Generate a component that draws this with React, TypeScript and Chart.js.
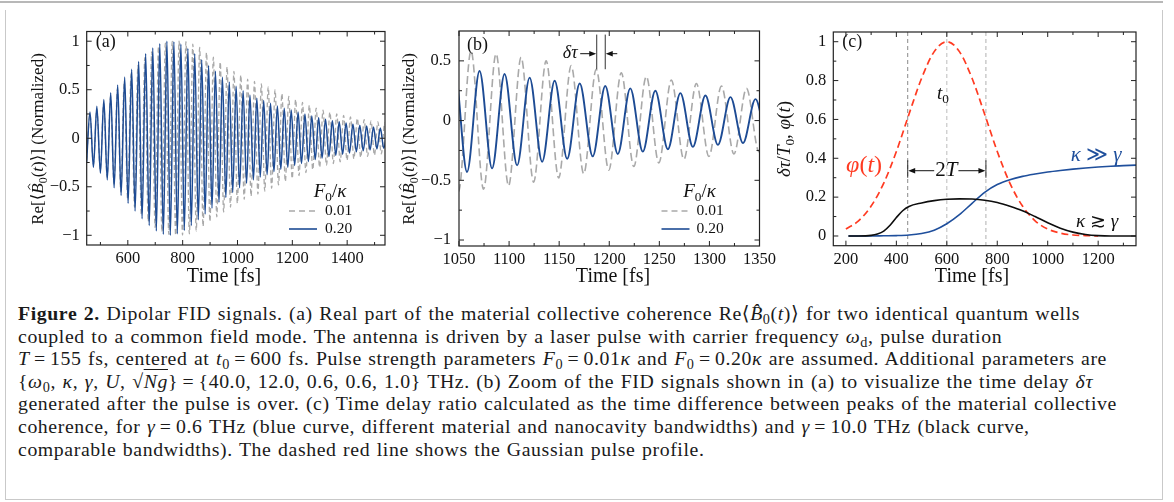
import React, { useEffect, useRef } from "react";
import { Chart, registerables } from "chart.js";
Chart.register(...registerables);

const FAMILY = '"Liberation Serif", "Times New Roman", "DejaVu Serif", serif';

// ---------------- DATA ----------------
// Panel (a)/(b): extrema (peaks/troughs) of the FID signals
const grayT = [449.5, 462, 474.5, 487, 499.5, 512, 524.5, 537, 549.5, 562, 574.5, 587, 599.5, 612, 624.5, 637, 649.5, 662, 674.5, 687, 699.5, 712, 724.5, 737, 749.5, 762, 774.5, 787, 799.5, 812, 824.5, 837, 849.5, 862, 874.5, 887, 899.5, 912, 924.5, 937, 949.5, 962, 974.5, 987, 999.5, 1012, 1024.5, 1037, 1049.5, 1062, 1074.5, 1087, 1099.5, 1112, 1124.5, 1137, 1149.5, 1162, 1174.5, 1187, 1199.5, 1212, 1224.5, 1237, 1249.5, 1262, 1274.5, 1287, 1299.5, 1312, 1324.5, 1337, 1349.5, 1362, 1374.5, 1387, 1399.5, 1412, 1424.5, 1437, 1449.5, 1462, 1474.5, 1487, 1499.5, 1512, 1524.5, 1537, 1549.5];
const grayV = [-0.23, 0.25, -0.27, 0.3, -0.33, 0.36, -0.4, 0.43, -0.47, 0.51, -0.55, 0.59, -0.63, 0.67, -0.71, 0.75, -0.79, 0.83, -0.86, 0.89, -0.92, 0.945, -0.965, 0.98, -0.99, 0.997, -1.0, 1.0, -0.998, 0.995, -0.985, 0.97, -0.955, 0.935, -0.91, 0.885, -0.86, 0.835, -0.81, 0.785, -0.76, 0.735, -0.71, 0.69, -0.67, 0.65, -0.63, 0.61, -0.595, 0.585, -0.575, 0.56, -0.545, 0.53, -0.515, 0.5, -0.48, 0.46, -0.445, 0.43, -0.415, 0.4, -0.385, 0.37, -0.355, 0.34, -0.325, 0.31, -0.3, 0.29, -0.28, 0.27, -0.26, 0.252, -0.244, 0.236, -0.228, 0.22, -0.213, 0.206, -0.199, 0.192, -0.186, 0.18, -0.174, 0.168, -0.162, 0.157, -0.152];
const blueT = [449.5, 462, 474.5, 487, 500, 512.5, 525, 537.5, 550, 563, 575.5, 588.5, 601, 614, 626.5, 639.5, 652, 665, 678, 691, 704, 716.5, 729.5, 742.5, 755, 768, 780.5, 793.5, 806, 819, 831.5, 844, 857, 869.5, 882, 894.5, 907, 919.5, 932.5, 945, 957.5, 970, 982.5, 995, 1007.5, 1020.5, 1033, 1045.5, 1058, 1070.5, 1083, 1095.5, 1108, 1120.5, 1133, 1145.5, 1158, 1170.5, 1183.5, 1196, 1208.5, 1221, 1233.5, 1246, 1258.5, 1271, 1283.5, 1296, 1308.5, 1321, 1333.5, 1346, 1358.5, 1371, 1383.5, 1396, 1408.5, 1421, 1433.5, 1446, 1458.5, 1471, 1483.5, 1496, 1508.5, 1521, 1533.5, 1546];
const blueV = [-0.25, 0.27, -0.3, 0.33, -0.36, 0.4, -0.43, 0.47, -0.51, 0.55, -0.59, 0.63, -0.67, 0.71, -0.75, 0.79, -0.83, 0.87, -0.9, 0.93, -0.955, 0.975, -0.99, 1.0, -1.0, 0.995, -0.985, 0.97, -0.95, 0.925, -0.9, 0.87, -0.84, 0.81, -0.78, 0.75, -0.72, 0.69, -0.66, 0.63, -0.61, 0.58, -0.56, 0.535, -0.51, 0.49, -0.465, 0.445, -0.43, 0.415, -0.4, 0.39, -0.375, 0.36, -0.345, 0.333, -0.32, 0.31, -0.3, 0.29, -0.28, 0.27, -0.26, 0.25, -0.24, 0.23, -0.22, 0.21, -0.203, 0.196, -0.188, 0.18, -0.175, 0.17, -0.164, 0.158, -0.152, 0.146, -0.14, 0.135, -0.13, 0.125, -0.12, 0.115, -0.11, 0.106, -0.102, 0.098];

// Panel (c)
const pulseT = [200, 250, 300, 350, 400, 450, 500, 550, 600, 650, 700, 750, 800, 850, 900, 950, 1000, 1050, 1100, 1150, 1200];
const pulseV = [0.036, 0.078, 0.154, 0.272, 0.435, 0.627, 0.812, 0.949, 1.0, 0.949, 0.812, 0.627, 0.435, 0.272, 0.154, 0.078, 0.036, 0.015, 0.005, 0.002, 0.0];
const wideT = [210, 300, 350, 400, 450, 500, 550, 600, 650, 700, 750, 800, 850, 900, 950, 1000, 1050, 1100, 1150, 1200, 1250, 1300, 1350];
const wideV = [0, 0, 0.001, 0.002, 0.005, 0.013, 0.03, 0.063, 0.11, 0.168, 0.225, 0.265, 0.29, 0.307, 0.319, 0.329, 0.337, 0.344, 0.35, 0.355, 0.359, 0.362, 0.365];
const compT = [210, 250, 300, 325, 350, 375, 400, 425, 450, 500, 550, 600, 650, 700, 750, 800, 850, 900, 950, 1000, 1050, 1100, 1150, 1200, 1250, 1300, 1350];
const compV = [0, 0, 0.003, 0.01, 0.025, 0.055, 0.095, 0.13, 0.152, 0.17, 0.182, 0.189, 0.191, 0.19, 0.184, 0.172, 0.153, 0.13, 0.1, 0.068, 0.04, 0.02, 0.008, 0.002, 0, 0, 0];
const pulseMarks = [445, 600, 755];
const delayMarks = [1187.5, 1196];

// Ticks
const aXTicks = [600, 800, 1000, 1200, 1400];
const aXMinor = [500, 700, 900, 1100, 1300, 1500];
const aYTicks = [-1, -0.5, 0, 0.5, 1];
const aYLabels = ["\u22121", "\u22120.5", "0", "0.5", "1"];
const aYMinor = [-0.75, -0.25, 0.25, 0.75];
const bXTicks = [1050, 1100, 1150, 1200, 1250, 1300, 1350];
const bXMinor = [1075, 1125, 1175, 1225, 1275, 1325];
const bYTicks = [-1, -0.5, 0, 0.5];
const bYLabels = ["\u22121", "\u22120.5", "0", "0.5"];
const bYMinor = [-0.75, -0.25, 0.25];
const cXTicks = [200, 400, 600, 800, 1000, 1200];
const cXMinor = [300, 500, 700, 900, 1100, 1300];
const cYTicks = [0, 0.2, 0.4, 0.6, 0.8, 1];
const cYLabels = ["0", "0.2", "0.4", "0.6", "0.8", "1"];
const cYMinor = [0.1, 0.3, 0.5, 0.7, 0.9];
const legendLabels = ["0.01", "0.20"];

// ---------------- STYLE ----------------
const BLUE = "#1d4b94";
const GRAY = "#a9a9a9";
const RED = "#ff3b22";
const INK = "#111111";
const TICK_SIZE = 16.5;

type Seg = { t: string; i?: boolean; s?: "sub" | "sup"; c?: string; hat?: boolean };
type Txt = { segs: Seg[]; x: number; y: number; coord: "data" | "px" | "tl" | "br"; size: number; color?: string; align?: "left" | "center" | "right"; rot?: number };
type Deco = {
  xMajor: number[]; xMinor: number[]; yMajor: number[]; yMinor: number[];
  texts: Txt[];
  arrows?: { x1: number; x2: number; y: number }[];
  bars?: { x: number; y1: number; y2: number }[];
  vlines?: { x: number; color: string }[];
  legend?: { tx: number; ty: number; s1: number; s2: number; lx: number; rows: number[]; items: { label: string; color: string; dash: number[]; width: number }[] };
};

function segFont(size: number, s: Seg) {
  const sz = s.s ? size * 0.7 : size;
  return `${s.i ? "italic " : ""}${sz}px ${FAMILY}`;
}

function drawRich(ctx: CanvasRenderingContext2D, segs: Seg[], x: number, y: number, size: number, color: string, align: string, rot: number) {
  ctx.save();
  ctx.translate(x, y);
  if (rot) ctx.rotate(rot);
  let w = 0;
  for (const s of segs) { ctx.font = segFont(size, s); w += ctx.measureText(s.t).width; }
  let cx = align === "center" ? -w / 2 : align === "right" ? -w : 0;
  ctx.textBaseline = "middle";
  ctx.textAlign = "left";
  for (const s of segs) {
    ctx.font = segFont(size, s);
    ctx.fillStyle = s.c || color;
    const dy = s.s === "sub" ? size * 0.27 : s.s === "sup" ? -size * 0.3 : 0;
    ctx.fillText(s.t, cx, dy);
    const sw = ctx.measureText(s.t).width;
    if (s.hat) {
      const mx = cx + sw / 2 + size * 0.1;
      const top = dy - size * 0.62;
      ctx.strokeStyle = s.c || color;
      ctx.lineWidth = 0.9;
      ctx.beginPath();
      ctx.moveTo(mx - size * 0.17, top + size * 0.1);
      ctx.lineTo(mx, top - size * 0.02);
      ctx.lineTo(mx + size * 0.17, top + size * 0.1);
      ctx.stroke();
    }
    cx += sw;
  }
  ctx.restore();
}

function makeDeco(cfg: Deco) {
  return {
    id: "deco",
    beforeDatasetsDraw(chart: any) {
      const { ctx, chartArea: ca, scales } = chart;
      for (const v of cfg.vlines || []) {
        const px = scales.x.getPixelForValue(v.x);
        ctx.save();
        ctx.strokeStyle = v.color;
        ctx.lineWidth = 1;
        ctx.setLineDash([4, 3]);
        ctx.beginPath();
        ctx.moveTo(px, ca.top);
        ctx.lineTo(px, ca.bottom);
        ctx.stroke();
        ctx.restore();
      }
    },
    afterDraw(chart: any) {
      const { ctx, chartArea: ca, scales } = chart;
      const xs = scales.x, ys = scales.y;
      ctx.save();
      ctx.strokeStyle = "#222";
      ctx.lineWidth = 1.2;
      ctx.strokeRect(ca.left, ca.top, ca.right - ca.left, ca.bottom - ca.top);
      const tick = (vals: number[], len: number, horiz: boolean) => {
        for (const v of vals) {
          ctx.beginPath();
          if (horiz) {
            const p = xs.getPixelForValue(v);
            ctx.moveTo(p, ca.bottom); ctx.lineTo(p, ca.bottom - len);
            ctx.moveTo(p, ca.top); ctx.lineTo(p, ca.top + len);
          } else {
            const p = ys.getPixelForValue(v);
            ctx.moveTo(ca.left, p); ctx.lineTo(ca.left + len, p);
            ctx.moveTo(ca.right, p); ctx.lineTo(ca.right - len, p);
          }
          ctx.stroke();
        }
      };
      ctx.lineWidth = 1;
      tick(cfg.xMajor, 5, true);
      tick(cfg.xMinor, 3, true);
      tick(cfg.yMajor, 5, false);
      tick(cfg.yMinor, 3, false);

      ctx.strokeStyle = "#333";
      ctx.lineWidth = 1;
      for (const b of cfg.bars || []) {
        const px = xs.getPixelForValue(b.x);
        ctx.beginPath();
        ctx.moveTo(px, ys.getPixelForValue(b.y1));
        ctx.lineTo(px, ys.getPixelForValue(b.y2));
        ctx.stroke();
      }
      for (const a of cfg.arrows || []) {
        const p1 = xs.getPixelForValue(a.x1), p2 = xs.getPixelForValue(a.x2), py = ys.getPixelForValue(a.y);
        const dir = p2 > p1 ? 1 : -1;
        ctx.strokeStyle = "#111";
        ctx.fillStyle = "#111";
        ctx.beginPath();
        ctx.moveTo(p1, py); ctx.lineTo(p2 - dir * 5, py);
        ctx.stroke();
        ctx.beginPath();
        ctx.moveTo(p2, py);
        ctx.lineTo(p2 - dir * 7, py - 2.8);
        ctx.lineTo(p2 - dir * 7, py + 2.8);
        ctx.closePath();
        ctx.fill();
      }
      const lg = cfg.legend;
      if (lg) {
        drawRich(ctx, [{ t: "F", i: true }, { t: "0", s: "sub" }, { t: "/" }, { t: "\u03ba", i: true }], ca.right + lg.tx, ca.bottom + lg.ty, 19, INK, "center", 0);
        lg.items.forEach((it, k) => {
          const yy = ca.bottom + lg.rows[k];
          ctx.save();
          ctx.strokeStyle = it.color;
          ctx.lineWidth = it.width;
          ctx.setLineDash(it.dash);
          ctx.beginPath();
          ctx.moveTo(ca.right + lg.s1, yy);
          ctx.lineTo(ca.right + lg.s2, yy);
          ctx.stroke();
          ctx.restore();
          drawRich(ctx, [{ t: it.label }], ca.right + lg.lx, yy, 15.5, INK, "left", 0);
        });
      }
      for (const t of cfg.texts) {
        let px = t.x, py = t.y;
        if (t.coord === "data") { px = xs.getPixelForValue(t.x); py = ys.getPixelForValue(t.y); }
        else if (t.coord === "tl") { px = ca.left + t.x; py = ca.top + t.y; }
        else if (t.coord === "br") { px = ca.right + t.x; py = ca.bottom + t.y; }
        drawRich(ctx, t.segs, px, py, t.size, t.color || INK, t.align || "center", t.rot || 0);
      }
      ctx.restore();
    },
  };
}

type Spec = {
  xMin: number; xMax: number; yMin: number; yMax: number;
  xTicks: number[]; xLabels: string[]; yTicks: number[]; yLabels: string[];
  yW: number; xH: number; padTop: number; padRight: number; yPad: number; xPad: number;
  datasets: any[]; deco: Deco;
};

function pts(t: number[], v: number[]) {
  return t.map((x, i) => ({ x, y: v[i] }));
}

function line(t: number[], v: number[], color: string, width: number, dash: number[]) {
  return {
    data: pts(t, v),
    borderColor: color,
    borderWidth: width,
    borderDash: dash,
    pointRadius: 0,
    fill: false,
    cubicInterpolationMode: "monotone",
  };
}

function build(canvas: HTMLCanvasElement, sp: Spec) {
  return new Chart(canvas, {
    type: "line",
    data: { datasets: sp.datasets },
    options: {
      animation: false,
      responsive: false,
      maintainAspectRatio: false,
      events: [],
      layout: { padding: { top: sp.padTop, right: sp.padRight, left: 0, bottom: 0 } },
      plugins: { legend: { display: false }, tooltip: { enabled: false } },
      scales: {
        x: {
          type: "linear", min: sp.xMin, max: sp.xMax,
          grid: { display: false, drawTicks: false }, border: { display: false },
          afterFit: (s: any) => { s.height = sp.xH; },
          afterBuildTicks: (s: any) => { s.ticks = sp.xTicks.map((v) => ({ value: v })); },
          ticks: { autoSkip: false, maxRotation: 0, padding: sp.xPad, color: INK, font: { family: FAMILY, size: TICK_SIZE }, callback: (_v: any, i: number) => sp.xLabels[i] },
        },
        y: {
          type: "linear", min: sp.yMin, max: sp.yMax,
          grid: { display: false, drawTicks: false }, border: { display: false },
          afterFit: (s: any) => { s.width = sp.yW; },
          afterBuildTicks: (s: any) => { s.ticks = sp.yTicks.map((v) => ({ value: v })); },
          ticks: { autoSkip: false, padding: sp.yPad, color: INK, font: { family: FAMILY, size: TICK_SIZE }, callback: (_v: any, i: number) => sp.yLabels[i] },
        },
      },
    } as any,
    plugins: [makeDeco(sp.deco) as any],
  });
}

const reTitle: Seg[] = [{ t: "Re[\u27e8" }, { t: "B", i: true, hat: true }, { t: "0", s: "sub" }, { t: "(" }, { t: "t", i: true }, { t: ")\u27e9] (Normalized)" }];
const timeTitle: Seg[] = [{ t: "Time [fs]" }];

const legendItems = [
  { label: legendLabels[0], color: GRAY, dash: [6, 4], width: 1.4 },
  { label: legendLabels[1], color: BLUE, width: 1.6, dash: [] as number[] },
];

const Sub = ({ children }: { children: React.ReactNode }) => (
  <span style={{ fontSize: "0.72em", position: "relative", top: "0.3em", lineHeight: 0 }}>{children}</span>
);
const Eq = () => <span style={{ margin: "0 0.22em" }}>=</span>;

export default function App() {
  const ra = useRef<HTMLCanvasElement>(null);
  const rb = useRef<HTMLCanvasElement>(null);
  const rc = useRef<HTMLCanvasElement>(null);

  useEffect(() => {
    const ca = build(ra.current!, {
      xMin: 450, xMax: 1538, yMin: -1.1, yMax: 1.1,
      xTicks: aXTicks, xLabels: aXTicks.map(String), yTicks: aYTicks, yLabels: aYLabels,
      yW: 86.7, xH: 47, padTop: 31.5, padRight: 15, yPad: 7, xPad: 4,
      datasets: [line(blueT, blueV, BLUE, 1.5, []), line(grayT, grayV, GRAY, 1.3, [5, 3])],
      deco: {
        xMajor: aXTicks, xMinor: aXMinor, yMajor: aYTicks, yMinor: aYMinor,
        texts: [
          { segs: [{ t: "(a)" }], x: 9, y: 11, coord: "tl", size: 18, align: "left" },
          { segs: reTitle, x: 39, y: 139, coord: "px", size: 17, rot: -Math.PI / 2 },
          { segs: timeTitle, x: 224, y: 277, coord: "px", size: 20 },
        ],
        legend: { tx: -55, ty: -53, s1: -96, s2: -68, lx: -60, rows: [-34, -16], items: legendItems },
      },
    });
    const cb = build(rb.current!, {
      xMin: 1050, xMax: 1350, yMin: -1.05, yMax: 0.75,
      xTicks: bXTicks, xLabels: bXTicks.map(String), yTicks: bYTicks, yLabels: bYLabels,
      yW: 79, xH: 46, padTop: 31, padRight: 17.7, yPad: 8, xPad: 4,
      datasets: [line(blueT, blueV, BLUE, 1.9, []), line(grayT, grayV, GRAY, 1.6, [8, 4])],
      deco: {
        xMajor: bXTicks, xMinor: bXMinor, yMajor: bYTicks, yMinor: bYMinor,
        texts: [
          { segs: [{ t: "(b)" }], x: 8, y: 14, coord: "tl", size: 18, align: "left" },
          { segs: reTitle, x: 30, y: 139, coord: "px", size: 17, rot: -Math.PI / 2 },
          { segs: timeTitle, x: 233, y: 277, coord: "px", size: 20 },
          { segs: [{ t: "\u03b4\u03c4", i: true }], x: 1161, y: 0.56, coord: "data", size: 18 },
        ],
        bars: delayMarks.map((x) => ({ x, y1: 0.43, y2: 0.72 })),
        arrows: [
          { x1: 1171, x2: 1187, y: 0.56 },
          { x1: 1208, x2: 1196.5, y: 0.56 },
        ],
        legend: { tx: -60, ty: -54, s1: -98, s2: -70, lx: -63, rows: [-35, -17], items: legendItems },
      },
    });
    const cc = build(rc.current!, {
      xMin: 150, xMax: 1350, yMin: -0.05, yMax: 1.05,
      xTicks: cXTicks, xLabels: cXTicks.map(String), yTicks: cYTicks, yLabels: cYLabels,
      yW: 63.3, xH: 44.3, padTop: 32, padRight: 38, yPad: 7, xPad: 4,
      datasets: [
        line(compT, compV, "#0d0d0d", 1.6, []),
        line(wideT, wideV, "#1f4f9c", 1.6, []),
        line(pulseT, pulseV, RED, 1.7, [7, 4]),
      ],
      deco: {
        xMajor: cXTicks, xMinor: cXMinor, yMajor: cYTicks, yMinor: cYMinor,
        vlines: [
          { x: pulseMarks[0], color: "#8a8a8a" },
          { x: pulseMarks[1], color: "#bdbdbd" },
          { x: pulseMarks[2], color: "#b0b0b0" },
        ],
        bars: [
          { x: pulseMarks[0], y1: 0.3, y2: 0.39 },
          { x: pulseMarks[2], y1: 0.3, y2: 0.39 },
        ],
        arrows: [
          { x1: 550, x2: pulseMarks[0] + 2, y: 0.336 },
          { x1: 646, x2: pulseMarks[2] - 2, y: 0.336 },
        ],
        texts: [
          { segs: [{ t: "(c)" }], x: 9, y: 10, coord: "tl", size: 18, align: "left" },
          { segs: [{ t: "\u03b4\u03c4", i: true }, { t: "/" }, { t: "T", i: true }, { t: "0", s: "sub" }, { t: ", " }, { t: "\u03c6", i: true }, { t: "(" }, { t: "t", i: true }, { t: ")" }], x: 15, y: 139, coord: "px", size: 19, rot: -Math.PI / 2 },
          { segs: timeTitle, x: 202, y: 277, coord: "px", size: 20 },
          { segs: [{ t: "t", i: true }, { t: "0", s: "sub" }], x: 585, y: 0.73, coord: "data", size: 19 },
          { segs: [{ t: "\u03c6", i: true }, { t: "(" }, { t: "t", i: true }, { t: ")" }], x: 272, y: 0.36, coord: "data", size: 24, color: RED },
          { segs: [{ t: "2" }, { t: "T", i: true }], x: 598, y: 0.336, coord: "data", size: 21 },
          { segs: [{ t: "\u03ba", i: true }, { t: " \u226b " }, { t: "\u03b3", i: true }], x: 1192, y: 0.413, coord: "data", size: 21, color: "#1f4f9c" },
          { segs: [{ t: "\u03ba", i: true }, { t: " \u2273 " }, { t: "\u03b3", i: true }], x: 1196, y: 0.07, coord: "data", size: 19 },
        ],
      },
    });
    return () => { ca.destroy(); cb.destroy(); cc.destroy(); };
  }, []);

  const capLines: React.ReactNode[] = [
    <><b>Figure 2.</b> Dipolar FID signals. (a) Real part of the material collective coherence Re⟨<i>B&#770;</i><Sub>0</Sub>(<i>t</i>)⟩ for two identical quantum wells</>,
    <>coupled to a common field mode. The antenna is driven by a laser pulse with carrier frequency <i>ω</i><Sub>d</Sub>, pulse duration</>,
    <><i>T</i><Eq />155 fs, centered at <i>t</i><Sub>0</Sub><Eq />600 fs. Pulse strength parameters <i>F</i><Sub>0</Sub><Eq />0.01<i>κ</i> and <i>F</i><Sub>0</Sub><Eq />0.20<i>κ</i> are assumed. Additional parameters are</>,
    <>{"{"}<i>ω</i><Sub>0</Sub>, <i>κ</i>, <i>γ</i>, <i>U</i>, √<span style={{ textDecoration: "overline" }}><i>Ng</i></span>{"}"}<Eq />{"{"}40.0, 12.0, 0.6, 0.6, 1.0{"}"} THz. (b) Zoom of the FID signals shown in (a) to visualize the time delay <i>δτ</i></>,
    <>generated after the pulse is over. (c) Time delay ratio calculated as the time difference between peaks of the material collective</>,
    <>coherence, for <i>γ</i><Eq />0.6 THz (blue curve, different material and nanocavity bandwidths) and <i>γ</i><Eq />10.0 THz (black curve,</>,
    <>comparable bandwidths). The dashed red line shows the Gaussian pulse profile.</>,
  ];

  return (
    <div style={{ position: "fixed", left: 0, top: 0, width: 1174, height: 502, background: "#fff", overflow: "hidden", fontFamily: FAMILY, color: INK }}>
      <div style={{ position: "absolute", left: 0, top: 1, width: 1163, height: 1.5, background: "#b8b8b8" }} />
      <div style={{ position: "absolute", left: 5, top: 10, width: 1156, height: 489, borderLeft: "1.5px solid #c9c9c9", borderRight: "1.5px solid #c9c9c9", borderBottom: "1.5px solid #c9c9c9" }} />
      <canvas ref={ra} width={400} height={292} style={{ position: "absolute", left: 0, top: 0, width: 400, height: 292 }} />
      <canvas ref={rb} width={400} height={292} style={{ position: "absolute", left: 380, top: 0, width: 400, height: 292 }} />
      <canvas ref={rc} width={404} height={290} style={{ position: "absolute", left: 770, top: 0, width: 404, height: 290 }} />
      {capLines.map((l, i) => (
        <div key={i} style={{ position: "absolute", left: 18, top: 302 + i * 22.6, fontSize: 19.8, lineHeight: "22.6px", letterSpacing: "0.6px", wordSpacing: "1px", whiteSpace: "nowrap", color: "#1a1a1a" }}>{l}</div>
      ))}
    </div>
  );
}
